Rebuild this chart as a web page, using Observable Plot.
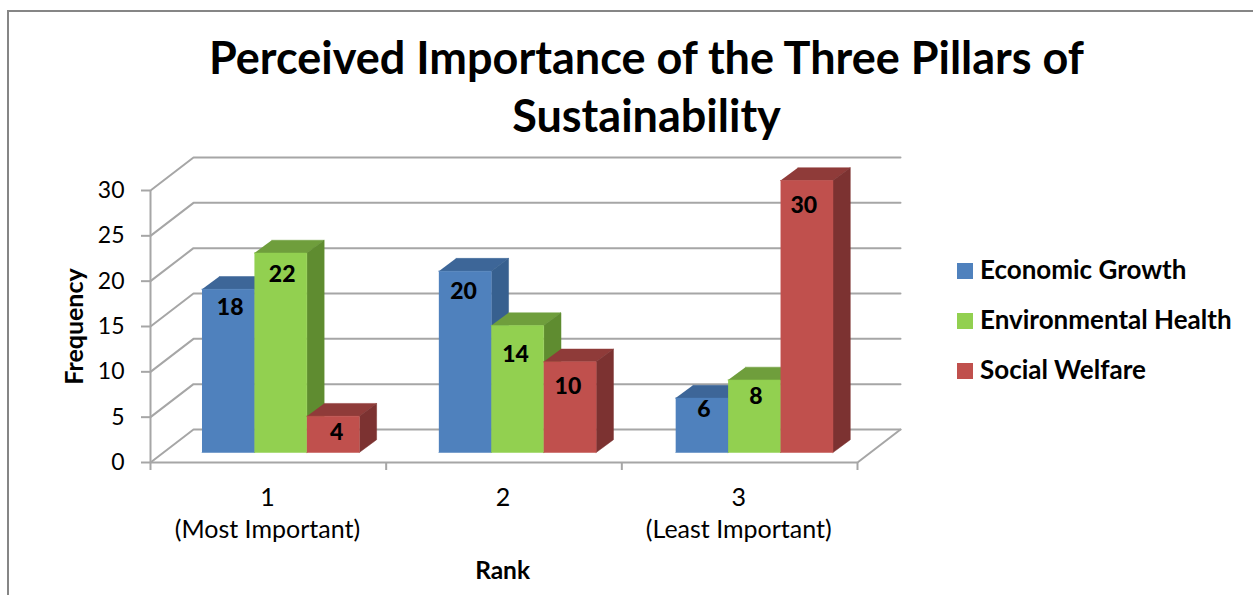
<!DOCTYPE html>
<html>
<head>
<meta charset="utf-8">
<script src="https://cdn.jsdelivr.net/npm/d3@7"></script>
<script src="https://cdn.jsdelivr.net/npm/@observablehq/plot@0.6"></script>
<style>
  html, body { margin: 0; background: #fff; overflow: hidden; }
  body { width: 1253px; height: 595px; position: relative; font-family: Lato, sans-serif; color: #000; }
  #frame { position: absolute; left: 7px; top: 10px; right: 0; bottom: 0; border-left: 2px solid #868686; border-top: 2px solid #868686; }
  #chart { position: absolute; left: 0; top: 0; }
  h1 { position: absolute; left: 0; top: 28px; width: 1293px; margin: 0; text-align: center; font-size: 45px; line-height: 58px; font-weight: 700; }
  #legend { position: absolute; left: 957px; top: 244px; }
  #legend div { position: absolute; left: 0; white-space: nowrap; font-size: 26px; font-weight: 700; line-height: 50px; height: 50px; }
  #legend i { display: inline-block; width: 16px; height: 16px; margin-right: 7px; vertical-align: 0; }
</style>
</head>
<body>
<div id="frame"></div>
<div id="chart"></div>
<h1>Perceived Importance of the Three Pillars of<br>Sustainability</h1>
<div id="legend"></div>
<script>
// Survey counts per rank
const ranks = ["1\n(Most Important)", "2", "3\n(Least Important)"];
const economicGrowth = [18, 20, 6];
const environmentalHealth = [22, 14, 8];
const socialWelfare = [4, 10, 30];
const seriesNames = ["Economic Growth", "Environmental Health", "Social Welfare"];
const frequencyTicks = [0, 5, 10, 15, 20, 25, 30];

const seriesValues = [economicGrowth, environmentalHealth, socialWelfare];

// Face shades: front, top, side
const shades = [
  ["#4f81bd", "#3d6698", "#37608f"],
  ["#92d050", "#6f9e3c", "#5f8c30"],
  ["#c0504d", "#8f3b39", "#7c3231"]
];

// Box projection, expressed in scale units (one rank = 1, one person = 1)
const unitX = 707 / 3, unitY = 272 / 30;
const wallDX = 43 / unitX, wallDY = 33 / unitY;
const barDX = 17.3 / unitX, barDY = 12.8 / unitY;
const barBase = 10 / unitY;
const groupInset = 0.2185, groupStep = 1.005, barWidth = 0.2225;

// How far below its bar top each count sits, and its sideways nudge, per rank and series (px)
const labelDrop = [[18, 22, 16], [20, 29, 25], [12, 17, 25]];
const labelShift = [[2, 1.5, 3.5], [-1.5, -2, -2], [2, 1.5, -3]];

// Polygons for the faces, listed back-to-front so neighbours overlap correctly
const faces = [];
const labels = [];
ranks.forEach((_, r) => {
  seriesValues.forEach((values, s) => {
    const x0 = r * groupStep + groupInset + s * barWidth, x1 = x0 + barWidth;
    const y0 = barBase, y1 = barBase + values[r];
    const polygon = (id, fill, points) =>
      points.forEach(([x, y]) => faces.push({id: `${r}-${s}-${id}`, fill, x, y}));
    polygon("top", shades[s][1], [[x0, y1], [x1, y1], [x1 + barDX, y1 + barDY], [x0 + barDX, y1 + barDY]]);
    polygon("side", shades[s][2], [[x1, y0], [x1 + barDX, y0 + barDY], [x1 + barDX, y1 + barDY], [x1, y1]]);
    polygon("front", shades[s][0], [[x0, y0], [x1, y0], [x1, y1], [x0, y1]]);
    labels.push({
      value: values[r],
      x: (x0 + x1) / 2 + labelShift[r][s] / unitX,
      y: y1 - labelDrop[r][s] / unitY
    });
  });
});

// Wall gridlines: each tick runs back from the axis, then along the wall
const wall = frequencyTicks.flatMap((v) => [
  {v, x: 0, y: v},
  {v, x: wallDX, y: v + wallDY},
  {v, x: 3 + wallDX, y: v + wallDY}
]);
const floorEdge = [{x: 3, y: 0}, {x: 3 + wallDX, y: wallDY}];

const gridColor = "#a6a6a6";
const axisFont = "Lato, sans-serif";

const plot = Plot.plot({
  width: 1253,
  height: 595,
  marginLeft: 150,
  marginRight: 396,
  marginTop: 190,
  marginBottom: 133,
  style: {fontFamily: axisFont, background: "transparent", color: "#000"},
  x: {domain: [0, 3], axis: null},
  y: {domain: [0, 30], axis: null},
  marks: [
    Plot.line(wall, {x: "x", y: "y", z: "v", stroke: gridColor, strokeWidth: 2}),
    Plot.line(floorEdge, {x: "x", y: "y", stroke: gridColor, strokeWidth: 2}),
    Plot.ruleX([0], {y1: 0, y2: 30, stroke: gridColor, strokeWidth: 2}),
    Plot.ruleY([0], {x1: 0, x2: 3, stroke: gridColor, strokeWidth: 2}),
    Plot.axisY({
      ticks: frequencyTicks, tickSize: 9, tickPadding: 17, stroke: gridColor, strokeWidth: 2,
      fontSize: 23, label: null, fill: "#000", strokeOpacity: 1
    }),
    Plot.axisX({
      ticks: [0, 1, 2, 3], tickSize: 8, tickFormat: () => "", stroke: gridColor, strokeWidth: 2, label: null
    }),
    Plot.line(faces, {x: "x", y: "y", z: "id", fill: "fill", stroke: "fill", strokeWidth: 0.5}),
    Plot.text(labels, {x: "x", y: "y", text: "value", fontSize: 23, fontWeight: 900, fill: "#000"}),
    Plot.text(ranks, {
      x: (_, i) => i + 0.496, y: 0, text: (d) => d, dy: 21, lineAnchor: "top", lineHeight: 1.28,
      fontSize: 25, fill: "#000"
    }),
    Plot.text(["Rank"], {x: [1.494], y: [0], text: (d) => d, dy: 109, fontSize: 24.5, fontWeight: 700, fill: "#000"}),
    Plot.text(["Frequency"], {
      x: [0], y: [15], text: (d) => d, dx: -76, dy: 0, rotate: -90, fontSize: 25, fontWeight: 700, fill: "#000"
    })
  ]
});
document.getElementById("chart").append(plot);

// Legend entries
const legend = document.getElementById("legend");
seriesNames.forEach((name, i) => {
  const row = document.createElement("div");
  row.style.top = `${i * 50}px`;
  const swatch = document.createElement("i");
  swatch.style.background = shades[i][0];
  row.append(swatch, name);
  legend.append(row);
});
</script>
</body>
</html>
